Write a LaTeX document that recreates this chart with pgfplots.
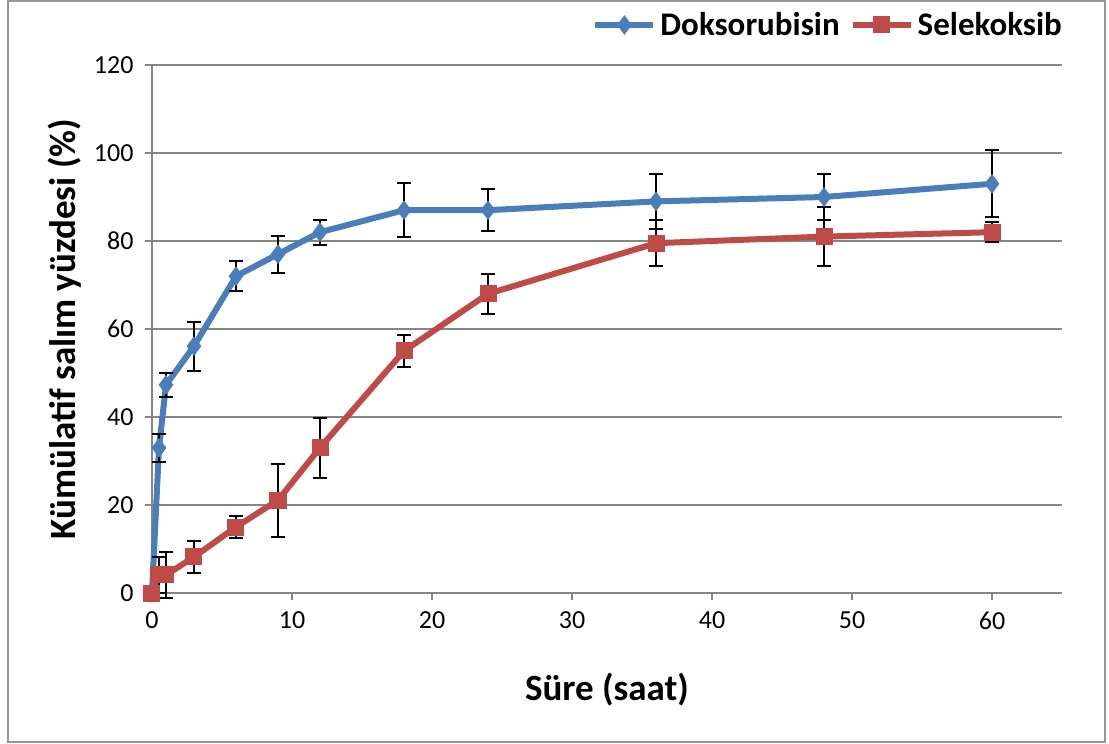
\documentclass[border=0pt]{standalone}
\usepackage{pgfplots}
\pgfplotsset{compat=1.18}
\usepackage{fontspec}
\setmainfont{Carlito}

\definecolor{doxblue}{RGB}{74,126,187}
\definecolor{celred}{RGB}{190,75,72}
\definecolor{gridgray}{RGB}{134,134,134}
\definecolor{framegray}{RGB}{150,150,150}

% time (h), cumulative release (%), standard deviation
\pgfplotstableread{
x    y     e
0    0     0
0.5  33    3.2
1    47.3  2.8
3    56.1  5.6
6    72    3.4
9    77    4.2
12   82    2.8
18   87    6.2
24   87    4.8
36   89    6.3
48   90    5.2
60   93    7.6
}\doxdata

\pgfplotstableread{
x    y     e
0    0     0
0.5  4.1   4.1
1    4.1   5.2
3    8.2   3.6
6    15    2.6
9    21.1  8.3
12   33    6.8
18   55    3.6
24   68    4.6
36   79.5  5.2
48   81    6.7
60   82    2.3
}\celdata

\begin{document}
\begin{tikzpicture}
% page size and outer frame
\path[use as bounding box] (-152bp,-151bp) rectangle (957bp,593bp);
\draw[framegray, line width=1.5bp] (-144bp,-149bp) rectangle (953bp,592bp);
\begin{axis}[
  at={(0,0)}, anchor=south west,
  scale only axis,
  width=910bp, height=528bp,
  xmin=0, xmax=65, ymin=0, ymax=120,
  xtick={0,10,...,60}, ytick={0,20,...,120},
  axis x line*=bottom, axis y line*=left,
  axis line style={gridgray, line width=1.3bp, -},
  ymajorgrids, grid style={gridgray, line width=1.3bp},
  tick style={gridgray, line width=1.3bp},
  tick align=outside, major tick length=7bp,
  /pgf/number format/assume math mode=true,
  ticklabel style={font=\fontsize{26bp}{30bp}\selectfont},
  yticklabel style={xshift=-8bp},
  xticklabel style={yshift=-8bp},
  xlabel={Süre (saat)},
  ylabel={Kümülatif salım yüzdesi (\%)},
  label style={font=\fontsize{37bp}{42bp}\selectfont\bfseries},
  xlabel style={at={(axis description cs:0.5,-0.1837)}, anchor=center},
  ylabel style={at={(axis description cs:-0.0956,0.5)}, anchor=center},
  legend columns=2,
  legend style={draw=none, fill=none, at={(axis description cs:1,1)}, anchor=east,
    yshift=40bp, xshift=2bp,
    font=\fontsize{33bp}{37bp}\selectfont\bfseries,
    /tikz/every odd column/.append style={column sep=2bp},
    /tikz/every even column/.append style={column sep=8bp},
    inner sep=0pt},
  legend image code/.code={
    \draw[#1, mark repeat=2, mark phase=2] plot coordinates {(0bp,0bp) (29bp,0bp) (58bp,0bp)};
  },
  clip=false,
]
\addplot[doxblue, line width=6bp, mark=diamond*, mark size=9bp,
  mark options={solid, fill=doxblue, draw=doxblue, line width=1bp},
  error bars/.cd, y dir=both, y explicit,
  error bar style={black, line width=2bp},
  error mark options={rotate=90, mark size=7bp, black, line width=2bp}]
  table[x=x, y=y, y error=e] {\doxdata};
\addlegendentry{Doksorubisin}
\addplot[celred, line width=6bp, mark=square*, mark size=8bp,
  mark options={solid, fill=celred, draw=celred, line width=1bp, rounded corners=2bp},
  error bars/.cd, y dir=both, y explicit,
  error bar style={black, line width=2bp},
  error mark options={rotate=90, mark size=7bp, black, line width=2bp}]
  table[x=x, y=y, y error=e] {\celdata};
\addlegendentry{Selekoksib}
\end{axis}
\end{tikzpicture}
\end{document}
